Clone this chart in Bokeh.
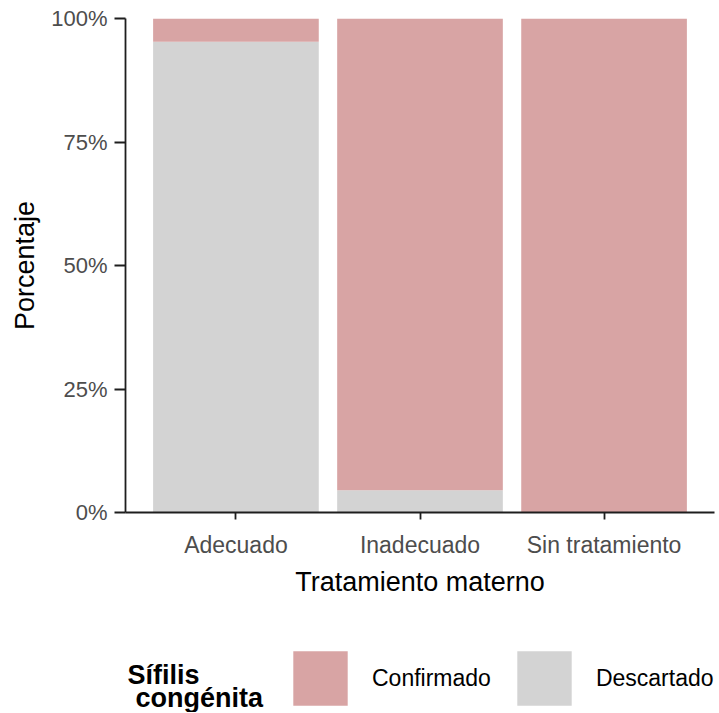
from bokeh.plotting import figure
from bokeh.layouts import column
from bokeh.models import (FactorRange, Range1d, Legend, LegendItem, Label,
                          NumeralTickFormatter, FixedTicker, ColumnDataSource)
from bokeh.embed import file_html
from bokeh.resources import INLINE

# ---- data ----
categories = ["Adecuado", "Inadecuado", "Sin tratamiento"]
descartado = [0.953, 0.045, 0.0]
confirmado = [0.047, 0.955, 1.0]
series = ["descartado", "confirmado"]
series_labels = ["Descartado", "Confirmado"]
series_colors = ["#D3D3D3", "#D8A4A4"]
y_ticks = [0.0, 0.25, 0.5, 0.75, 1.0]
legend_title = ["Sífilis", "congénita"]

FONT = "Liberation Sans"
AXIS_COLOR = "#1E1E1E"

source = ColumnDataSource(dict(cat=categories, descartado=descartado,
                               confirmado=confirmado))

p = figure(
    width=719, height=600,
    x_range=FactorRange(factors=categories, range_padding=0.1,
                        range_padding_units="absolute"),
    y_range=Range1d(0, 1),
    output_backend="svg", toolbar_location=None,
    min_border_left=125, min_border_right=5, min_border_top=18,
    min_border_bottom=88,
)

renderers = p.vbar_stack(series, x="cat", width=0.9, source=source,
                         color=series_colors, line_color=None)

p.xgrid.visible = False
p.ygrid.visible = False
p.outline_line_color = None
p.background_fill_color = "white"
p.border_fill_color = "white"

# x axis
xa = p.xaxis[0]
xa.axis_label = "Tratamiento materno"
xa.axis_label_text_font = FONT
xa.axis_label_text_font_size = "27px"
xa.axis_label_text_font_style = "normal"
xa.axis_label_text_color = "black"
xa.axis_label_standoff = 6
xa.major_label_text_font = FONT
xa.major_label_text_font_size = "23px"
xa.major_label_text_color = "#4D4D4D"
xa.major_label_standoff = 12
xa.major_tick_out = 7
xa.major_tick_in = 0
xa.minor_tick_out = 0
xa.axis_line_width = 1.8
xa.axis_line_color = AXIS_COLOR
xa.major_tick_line_width = 1.8
xa.major_tick_line_color = AXIS_COLOR

# y axis
ya = p.yaxis[0]
ya.ticker = FixedTicker(ticks=y_ticks)
ya.formatter = NumeralTickFormatter(format="0%")
ya.axis_label = "Porcentaje"
ya.axis_label_text_font = FONT
ya.axis_label_text_font_size = "27px"
ya.axis_label_text_font_style = "normal"
ya.axis_label_text_color = "black"
ya.axis_label_standoff = 8
ya.major_label_text_font = FONT
ya.major_label_text_font_size = "22px"
ya.major_label_text_color = "#4D4D4D"
ya.major_label_standoff = 7
ya.major_tick_out = 11
ya.major_tick_in = 0
ya.minor_tick_out = 0
ya.minor_tick_in = 0
ya.axis_line_width = 1.8
ya.axis_line_color = AXIS_COLOR
ya.major_tick_line_width = 1.8
ya.major_tick_line_color = AXIS_COLOR

# ---- legend strip below the plot ----
leg = figure(
    width=719, height=112,
    x_range=FactorRange(factors=categories), y_range=Range1d(0, 1),
    output_backend="svg", toolbar_location=None,
    x_axis_location=None, y_axis_location=None,
    min_border_left=125, min_border_right=5, min_border_top=0,
    min_border_bottom=0,
)
leg.grid.visible = False
leg.outline_line_color = None
leg.background_fill_color = "white"
leg.border_fill_color = "white"

# legend keys: same stacked series, not drawn in this strip (legend only)
keys = leg.vbar_stack(series, x="cat", width=0.9, source=source,
                      color=series_colors, line_color=None)
for r in keys:
    r.visible = False

legend = Legend(
    items=[LegendItem(label=series_labels[1], renderers=[keys[1]]),
           LegendItem(label=series_labels[0], renderers=[keys[0]])],
    orientation="horizontal", location=(161, 0),
    glyph_width=68, glyph_height=68, label_standoff=18, spacing=19,
    padding=0, margin=0, border_line_color=None, background_fill_alpha=0,
    label_text_font=FONT, label_text_font_size="23px",
    label_text_color="black", label_height=68, click_policy="none",
)
leg.add_layout(legend, "center")

for txt, xx, yy in zip(legend_title, (2, 10), (38, 15)):
    leg.add_layout(Label(x=xx, y=yy, x_units="screen", y_units="screen",
                         text=txt, text_font=FONT, text_font_size="27px",
                         text_font_style="bold", text_color="black",
                         text_baseline="alphabetic", text_align="left"))

layout = column(p, leg, spacing=0)
open("out.html", "w").write(file_html(layout, INLINE))
